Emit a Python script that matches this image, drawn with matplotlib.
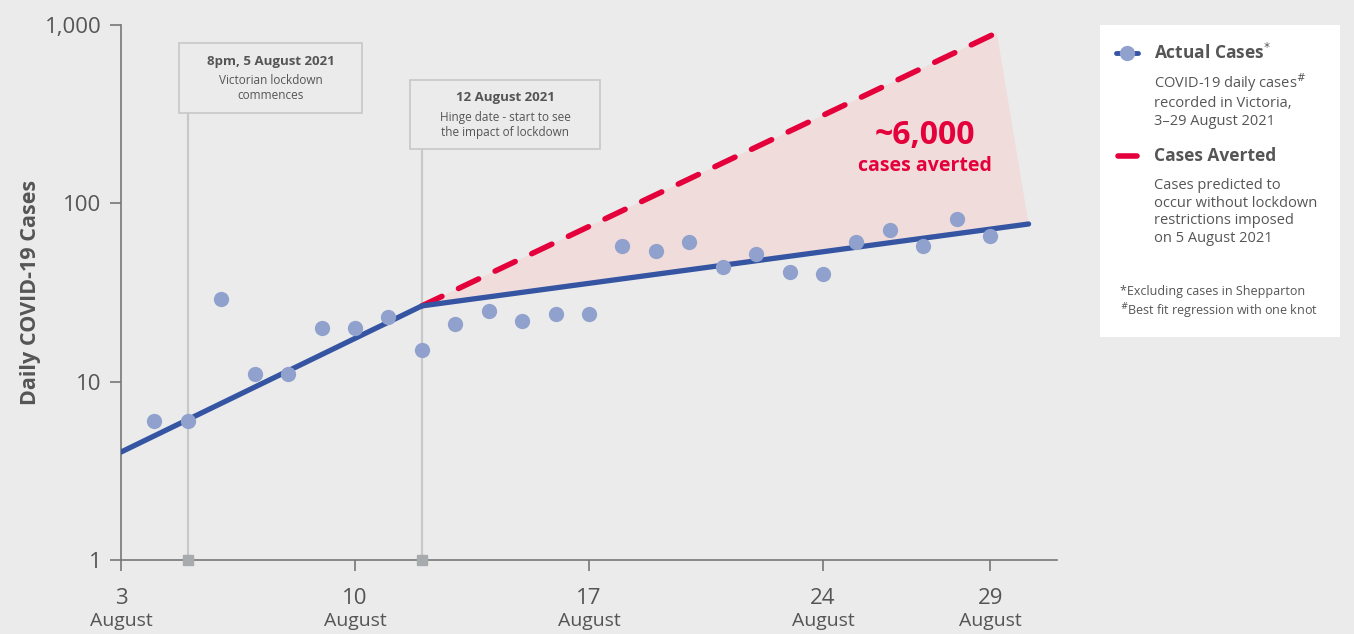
import numpy as np
import matplotlib.pyplot as plt
from matplotlib.patches import Polygon

plt.rcParams['font.family'] = ['Open Sans', 'DejaVu Sans']

# Daily cases, Victoria, August 2021
days = [4, 5, 6, 7, 8, 9, 10, 11, 12, 13, 14, 15, 16, 17,
        18, 19, 20, 21, 22, 23, 24, 25, 26, 27, 28, 29]
cases = [6, 6, 29, 11, 11, 20, 20, 23, 15, 21, 25, 22, 24, 24,
         58, 54, 61, 44, 52, 41, 40, 61, 71, 58, 82, 66]

# best fit regression with one knot (hinge on 12 Aug)
fit_days = [3, 12, 30.15]
fit_vals = [4.03, 26.6, 76.6]

# prediction without lockdown
cf_days = [12, 29.2]
cf_vals = [26.6, 905]

xticks = [3, 10, 17, 24, 29]
xticklabels = ['3', '10', '17', '24', '29']
month = 'August'
yticks = [1, 10, 100, 1000]
yticklabels = ['1', '10', '100', '1,000']

bg = '#ebebeb'
grey_txt = '#555555'
blue = '#3555a3'
dot = '#8fa1cc'
red = '#e4003b'

fig = plt.figure(figsize=(13.54, 6.34), dpi=100)
fig.patch.set_facecolor(bg)
ax = fig.add_axes([121/1354, 1-560/634, (1057-121)/1354, (560-25)/634])
ax.set_facecolor(bg)
ax.set_yscale('log')
ax.set_ylim(1, 1000)
ax.set_xlim(3, 31)

for s in ['top', 'right']:
    ax.spines[s].set_visible(False)
for s in ['left', 'bottom']:
    ax.spines[s].set_color('#777777')
    ax.spines[s].set_linewidth(1.2)

ax.set_yticks(yticks)
ax.set_yticklabels(yticklabels)
ax.yaxis.set_minor_locator(plt.NullLocator())
ax.set_xticks(xticks)
ax.set_xticklabels(xticklabels)
ax.tick_params(axis='y', length=8, width=1.2, color='#777777', labelsize=16,
               labelcolor=grey_txt, pad=6)
ax.tick_params(axis='x', length=8, width=1.2, color='#777777', labelsize=16,
               labelcolor=grey_txt, pad=12)
for d in xticks:
    ax.annotate(month, xy=(d, 0), xycoords=('data', 'axes fraction'),
                xytext=(0, -44), textcoords='offset points', ha='center',
                va='center', fontsize=14, color=grey_txt)
ax.set_ylabel('Daily COVID-19 Cases', fontsize=15.5, fontweight='bold',
              color=grey_txt, labelpad=3)

# shaded area between prediction and fit
poly = Polygon([(cf_days[0], cf_vals[0]), (cf_days[1], cf_vals[1]),
                (fit_days[2], fit_vals[2])], closed=True,
               facecolor='#f1dcdc', edgecolor='none', zorder=1)
ax.add_patch(poly)

# event lines
for d, top in [(5, 113), (12, 149)]:
    ymax = (560 - top) / (560 - 25)
    ax.axvline(d, ymin=0, ymax=ymax, color='#c8c8c8', lw=1.6, zorder=1)
    ax.plot(d, 1, 's', color='#a8abae', ms=7, clip_on=False, zorder=5)

ax.plot(cf_days, cf_vals, color=red, lw=4, dashes=(4, 3.3),
        solid_capstyle='round', dash_capstyle='round', zorder=3)
ax.plot(fit_days, fit_vals, color=blue, lw=3.8, solid_capstyle='round', zorder=4)
ax.plot(days, cases, 'o', color=dot, ms=11, mec='none', zorder=5)

# annotation boxes
def note(x0, y0, x1, y1, title, body):
    fx0, fx1 = x0 / 1354, x1 / 1354
    fy0, fy1 = 1 - y1 / 634, 1 - y0 / 634
    fig.patches.append(plt.Rectangle((fx0, fy0), fx1 - fx0, fy1 - fy0,
                                     transform=fig.transFigure,
                                     facecolor=bg, edgecolor='#c8c8c8', lw=1.2))
    cx = (fx0 + fx1) / 2
    fig.text(cx, 1 - (y0 + 18) / 634, title, ha='center', va='center',
             fontsize=9.5, fontweight='bold', color=grey_txt)
    fig.text(cx, 1 - (y0 + 45) / 634, body, ha='center', va='center',
             fontsize=8.5, color=grey_txt, linespacing=1.2)

note(179, 43, 362, 113, '8pm, 5 August 2021', 'Victorian lockdown\ncommences')
note(410, 80, 600, 149, '12 August 2021',
     'Hinge date - start to see\nthe impact of lockdown')

fig.text(925/1354, 1 - 135/634, '~6,000', ha='center', va='center',
         fontsize=23, fontweight='bold', color=red)
fig.text(925/1354, 1 - 166/634, 'cases averted', ha='center', va='center',
         fontsize=14, fontweight='bold', color=red)

# legend panel
fig.patches.append(plt.Rectangle((1100/1354, 1 - 337/634), 240/1354, 312/634,
                                 transform=fig.transFigure,
                                 facecolor='white', edgecolor='none'))
lx = 1154 / 1354
fig.add_artist(plt.Line2D([1116/1354, 1138/1354], [1 - 53/634] * 2,
                          color=blue, lw=3.5, solid_capstyle='round'))
fig.add_artist(plt.Line2D([1127/1354], [1 - 53/634], marker='o', ms=11,
                          color=dot, mec='none'))
fig.text(lx, 1 - 53/634, 'Actual Cases$^{*}$', ha='left', va='center',
         fontsize=12.5, fontweight='bold', color=grey_txt)
fig.text(lx, 1 - 100/634, 'COVID-19 daily cases$^{\\#}$\nrecorded in Victoria,\n3\u201329 August 2021',
         ha='left', va='center', fontsize=10.5, color=grey_txt, linespacing=1.25)
fig.add_artist(plt.Line2D([1118/1354, 1137/1354], [1 - 156/634] * 2,
                          color=red, lw=4, solid_capstyle='round'))
fig.text(lx, 1 - 156/634, 'Cases Averted', ha='left', va='center',
         fontsize=12.5, fontweight='bold', color=grey_txt)
fig.text(lx, 1 - 212/634, 'Cases predicted to\noccur without lockdown\nrestrictions imposed\non 5 August 2021',
         ha='left', va='center', fontsize=10.5, color=grey_txt, linespacing=1.25)
fig.text(1120/1354, 1 - 303/634, '*Excluding cases in Shepparton\n$^{\\#}$Best fit regression with one knot',
         ha='left', va='center', fontsize=9, color=grey_txt, linespacing=1.3)

fig.savefig('out.png', dpi=100, facecolor=bg)
